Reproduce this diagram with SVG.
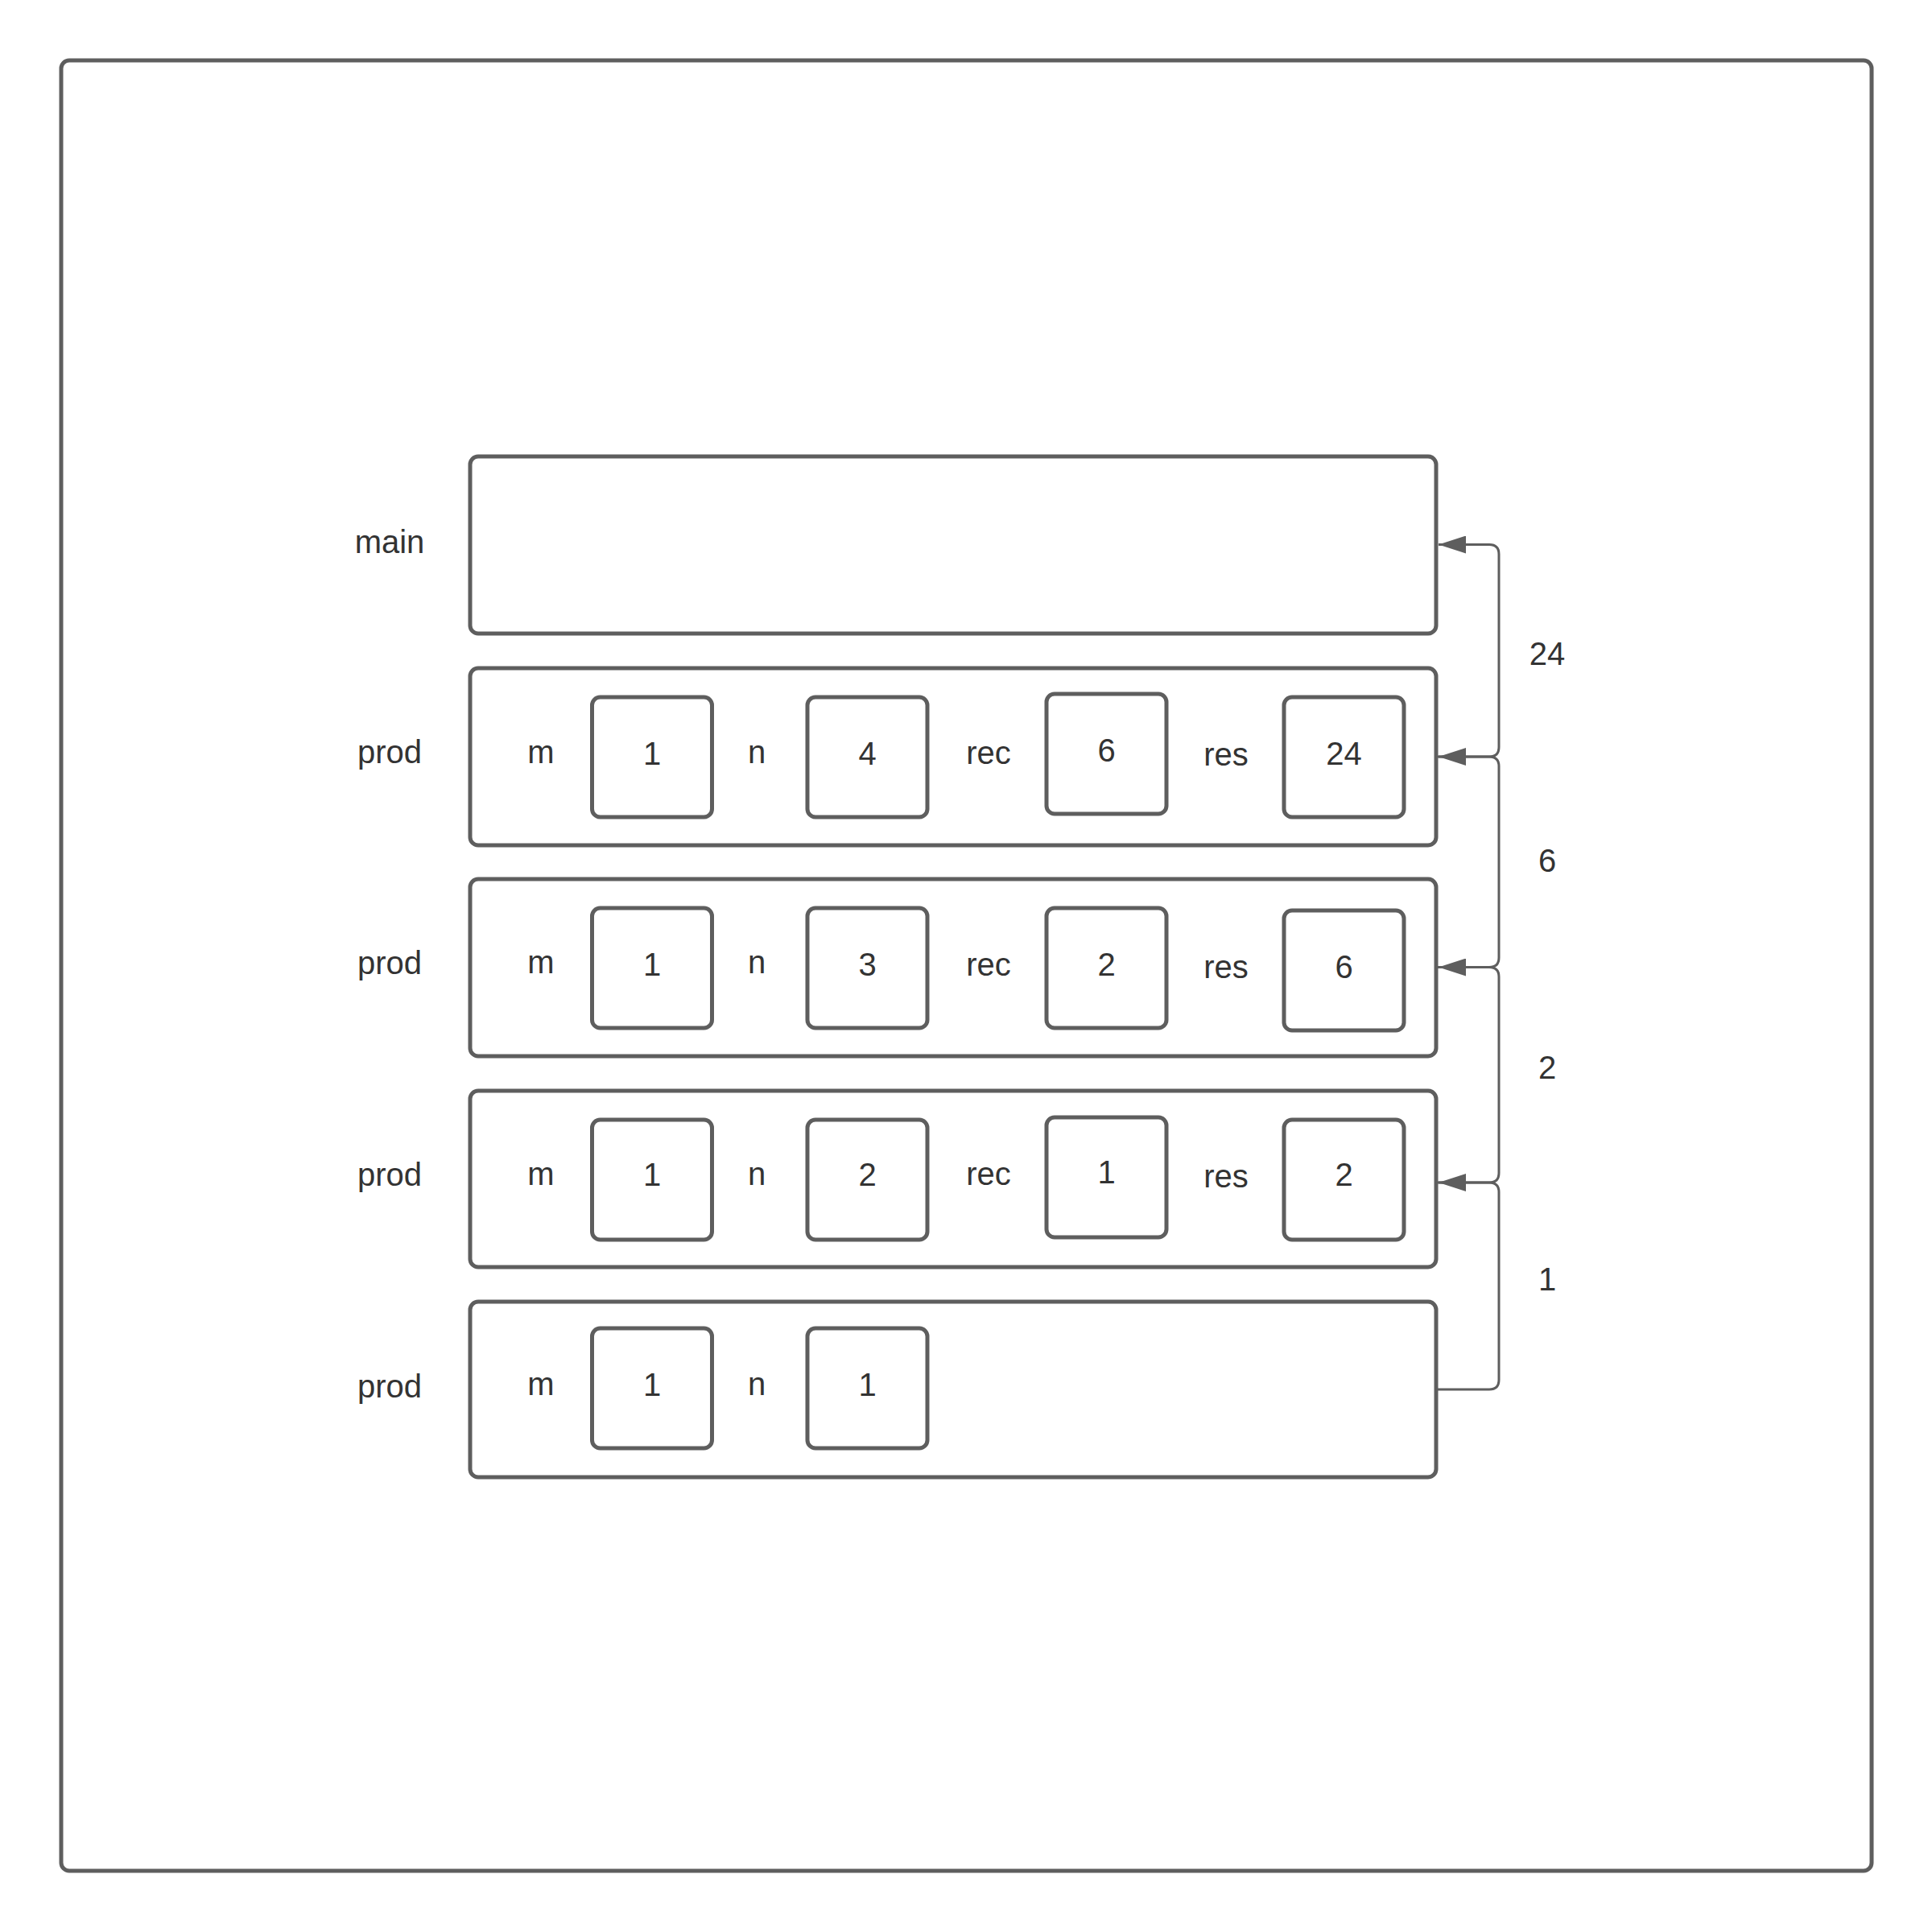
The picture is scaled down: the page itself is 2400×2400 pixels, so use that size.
<svg xmlns="http://www.w3.org/2000/svg" width="2400" height="2400" viewBox="0 0 2400 2400">
<style>
.frame{fill:#ffffff;stroke:#5e5e5e;stroke-width:5}
.box{fill:#ffffff;stroke:#5e5e5e;stroke-width:5}
.val{fill:#ffffff;stroke:#5e5e5e;stroke-width:5}
.conn{fill:none;stroke:#5e5e5e;stroke-width:3}
text{font-family:"Liberation Sans",Arial,sans-serif;font-size:40px;fill:#333333;text-anchor:middle}
</style>
<defs>
<marker id="arr" markerUnits="userSpaceOnUse" markerWidth="34" markerHeight="22" viewBox="0 0 34 22" refX="34" refY="11" orient="auto">
<path d="M0,0 L34,11 L0,22 Z" fill="#5e5e5e"/>
</marker>
</defs>
<rect width="2400" height="2400" fill="#ffffff"/>
<rect id="outer" class="frame" x="76" y="75" width="2249" height="2249" rx="10"/>

<g id="main">
<rect class="box" x="584" y="567" width="1200" height="220" rx="10"/>
<text x="484" y="687">main</text>
</g>

<g id="prod1">
<rect class="box" x="584" y="830" width="1200" height="220" rx="10"/>
<text x="484" y="948">prod</text>
<text x="672" y="948">m</text>
<rect class="val" x="735.5" y="866" width="149" height="149" rx="10"/>
<text x="810" y="949.5">1</text>
<text x="940" y="948">n</text>
<rect class="val" x="1003" y="866" width="149" height="149" rx="10"/>
<text x="1077.5" y="949.5">4</text>
<text x="1228" y="949">rec</text>
<rect class="val" x="1300" y="862" width="149" height="149" rx="10"/>
<text x="1374.5" y="945.5">6</text>
<text x="1523" y="951">res</text>
<rect class="val" x="1595" y="866" width="149" height="149" rx="10"/>
<text x="1669.5" y="949.5">24</text>
</g>

<g id="prod2">
<rect class="box" x="584" y="1092" width="1200" height="220" rx="10"/>
<text x="484" y="1210">prod</text>
<text x="672" y="1209">m</text>
<rect class="val" x="735.5" y="1128" width="149" height="149" rx="10"/>
<text x="810" y="1211.5">1</text>
<text x="940" y="1209">n</text>
<rect class="val" x="1003" y="1128" width="149" height="149" rx="10"/>
<text x="1077.5" y="1211.5">3</text>
<text x="1228" y="1212">rec</text>
<rect class="val" x="1300" y="1128" width="149" height="149" rx="10"/>
<text x="1374.5" y="1211.5">2</text>
<text x="1523" y="1215">res</text>
<rect class="val" x="1595" y="1131" width="149" height="149" rx="10"/>
<text x="1669.5" y="1214.5">6</text>
</g>

<g id="prod3">
<rect class="box" x="584" y="1355" width="1200" height="219" rx="10"/>
<text x="484" y="1473">prod</text>
<text x="672" y="1472">m</text>
<rect class="val" x="735.5" y="1391" width="149" height="149" rx="10"/>
<text x="810" y="1473">1</text>
<text x="940" y="1472">n</text>
<rect class="val" x="1003" y="1391" width="149" height="149" rx="10"/>
<text x="1077.5" y="1473">2</text>
<text x="1228" y="1472">rec</text>
<rect class="val" x="1300" y="1388" width="149" height="149" rx="10"/>
<text x="1374.5" y="1470">1</text>
<text x="1523" y="1475">res</text>
<rect class="val" x="1595" y="1391" width="149" height="149" rx="10"/>
<text x="1669.5" y="1473">2</text>
</g>

<g id="prod4">
<rect class="box" x="584" y="1617" width="1200" height="218" rx="10"/>
<text x="484" y="1736">prod</text>
<text x="672" y="1732.5">m</text>
<rect class="val" x="735.5" y="1650" width="149" height="149" rx="10"/>
<text x="810" y="1733.5">1</text>
<text x="940" y="1732.5">n</text>
<rect class="val" x="1003" y="1650" width="149" height="149" rx="10"/>
<text x="1077.5" y="1733.5">1</text>
</g>

<g id="connectors">
<path class="conn" marker-end="url(#arr)" d="M1786,1726 H1850 Q1862,1726 1862,1714 V1481 Q1862,1469 1850,1469 H1787"/>
<path class="conn" marker-end="url(#arr)" d="M1786,1469 H1850 Q1862,1469 1862,1457 V1213.5 Q1862,1201.5 1850,1201.5 H1787"/>
<path class="conn" marker-end="url(#arr)" d="M1786,1201.5 H1850 Q1862,1201.5 1862,1189.5 V952 Q1862,940 1850,940 H1787"/>
<path class="conn" marker-end="url(#arr)" d="M1786,940 H1850 Q1862,940 1862,928 V688.5 Q1862,676.5 1850,676.5 H1787"/>
<text x="1922" y="1603">1</text>
<text x="1922" y="1340">2</text>
<text x="1922" y="1083">6</text>
<text x="1922" y="826">24</text>
</g>
</svg>
